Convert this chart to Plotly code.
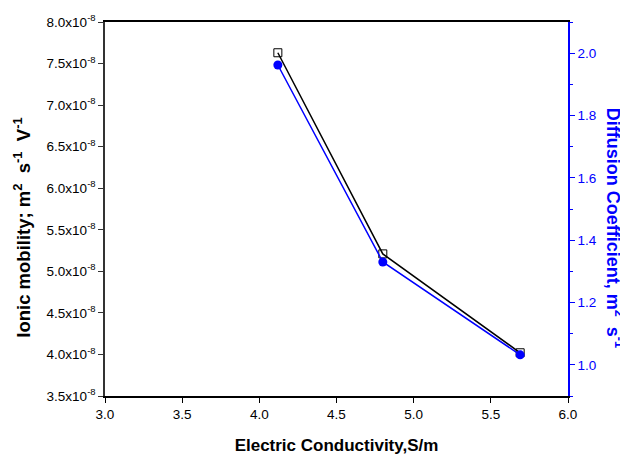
import plotly.graph_objects as go

# Data
conductivity = [4.12, 4.80, 5.69]
ionic_mobility = [7.63e-8, 5.21e-8, 4.02e-8]
diffusion_coeff = [1.962, 1.33, 1.032]

x_ticks = [3.0, 3.5, 4.0, 4.5, 5.0, 5.5, 6.0]
y_tick_vals = [3.5e-8, 4.0e-8, 4.5e-8, 5.0e-8, 5.5e-8, 6.0e-8, 6.5e-8, 7.0e-8, 7.5e-8, 8.0e-8]
y_tick_text = ["3.5x10<sup>-8</sup>", "4.0x10<sup>-8</sup>", "4.5x10<sup>-8</sup>", "5.0x10<sup>-8</sup>",
               "5.5x10<sup>-8</sup>", "6.0x10<sup>-8</sup>", "6.5x10<sup>-8</sup>", "7.0x10<sup>-8</sup>",
               "7.5x10<sup>-8</sup>", "8.0x10<sup>-8</sup>"]
y2_ticks = [1.0, 1.2, 1.4, 1.6, 1.8, 2.0]

font_family = "Liberation Sans, Arial, sans-serif"

fig = go.Figure()
fig.add_trace(go.Scatter(
    x=conductivity, y=ionic_mobility, mode="lines+markers",
    line=dict(color="black", width=1.5),
    marker=dict(symbol="square-open", size=8, color="black", line=dict(width=1)),
    yaxis="y", showlegend=False))
fig.add_trace(go.Scatter(
    x=conductivity, y=diffusion_coeff, mode="lines+markers",
    line=dict(color="blue", width=1.5),
    marker=dict(symbol="circle", size=9, color="blue"),
    yaxis="y2", showlegend=False))

fig.update_layout(
    width=620, height=447,
    margin=dict(l=97, r=60, t=14, b=59, autoexpand=False),
    paper_bgcolor="white", plot_bgcolor="white",
    font=dict(family=font_family, size=13.5, color="black"),
    xaxis=dict(range=[3.0, 6.0], tickvals=x_ticks, ticktext=["%.1f" % v for v in x_ticks],
               showline=True, linecolor="black", linewidth=1.5, mirror=True,
               ticks="outside", ticklen=5, tickwidth=1.2, tickcolor="black",
               showgrid=False, zeroline=False, automargin=False,
               title=dict(text="<b>Electric Conductivity,S/m</b>", font=dict(size=17), standoff=22)),
    yaxis=dict(range=[3.5e-8, 8.0e-8], tickvals=y_tick_vals, ticktext=y_tick_text,
               showline=True, linecolor="#333", linewidth=1.5,
               ticks="outside", ticklen=5, tickwidth=1.2, tickcolor="#333",
               showgrid=False, zeroline=False, automargin=False),
    yaxis2=dict(range=[0.9, 2.1], overlaying="y", side="right",
                tickvals=y2_ticks, ticktext=["%.1f" % v for v in y2_ticks],
                showline=True, linecolor="blue", linewidth=1.5,
                ticks="outside", ticklen=5, tickwidth=1.2, tickcolor="blue",
                minor=dict(dtick=0.1, ticks="outside", ticklen=3, tickcolor="blue", tickwidth=1),
                tickfont=dict(color="blue", size=13.5),
                showgrid=False, zeroline=False, automargin=False),
    annotations=[
        dict(text="<b>Ionic mobility; m<sup>2</sup>&nbsp; s<sup>-1</sup>&nbsp; V<sup>-1</sup></b>",
             xref="paper", yref="paper", x=0.0, y=0.45, xanchor="center", yanchor="middle",
             xshift=-83, textangle=-90, showarrow=False,
             font=dict(size=18.5, color="black")),
        dict(text="<b>Diffusion Coefficient, m<sup>2</sup>&nbsp; s<sup>-1</sup></b>",
             xref="paper", yref="paper", x=1.0, y=0.45, xanchor="center", yanchor="middle",
             xshift=46, textangle=90, showarrow=False,
             font=dict(size=18, color="blue"))],
)

fig.write_html("out.html")
